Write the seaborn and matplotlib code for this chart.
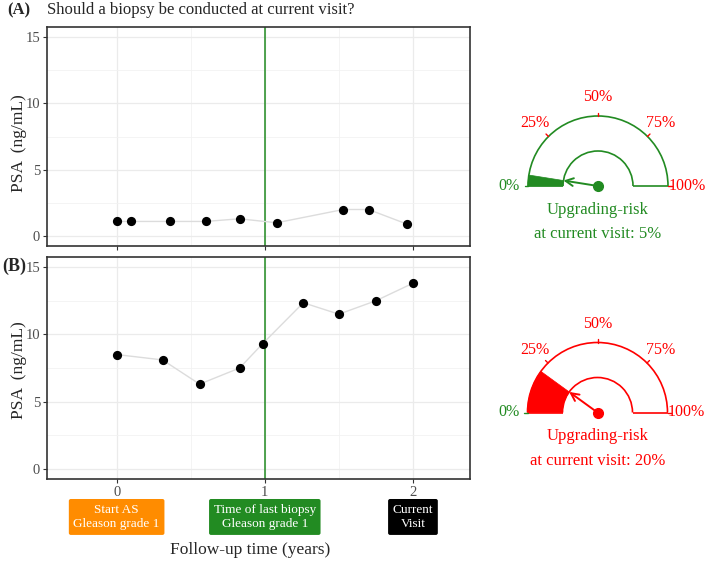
import numpy as np
import pandas as pd
import matplotlib
matplotlib.use("Agg")
import matplotlib.pyplot as plt
import matplotlib.transforms as mtransforms
from matplotlib.patches import Wedge, Arc, FancyArrowPatch
import seaborn as sns

# ---------------- data ----------------
time_a = [0.0, 0.10, 0.36, 0.60, 0.83, 1.08, 1.53, 1.70, 1.96]
psa_a = [1.1, 1.1, 1.1, 1.1, 1.3, 1.0, 2.0, 2.0, 0.9]
time_b = [0.0, 0.31, 0.56, 0.83, 0.985, 1.26, 1.50, 1.75, 2.0]
psa_b = [8.5, 8.1, 6.3, 7.5, 9.3, 12.35, 11.5, 12.5, 13.8]

risk_values = [0.05, 0.20]
risk_colors = ["#228B22", "#FF0000"]
panel_tags = ["(A)", "(B)"]

last_biopsy_time = 1.0
event_times = [0.0, 1.0, 2.0]
event_labels = ["Start AS\nGleason grade 1", "Time of last biopsy\nGleason grade 1", "Current\nVisit"]
event_colors = ["#FF8C00", "#228B22", "#000000"]

gauge_ticks = [0, 25, 50, 75, 100]
gauge_tick_colors = ["#228B22", "#FF0000", "#FF0000", "#FF0000", "#FF0000"]

y_ticks = [0, 5, 10, 15]
x_ticks = [0, 1, 2]

# ---------------- style ----------------
sns.set_style("white")
plt.rcParams["font.family"] = ["Liberation Serif", "DejaVu Serif"]

W, H = 709, 562
fig = plt.figure(figsize=(W / 100, H / 100), dpi=100)


def px_rect(x0, y0, x1, y1):
    return [x0 / W, 1 - y1 / H, (x1 - x0) / W, (y1 - y0) / H]


ax_a = fig.add_axes(px_rect(47, 27, 470, 246))
ax_b = fig.add_axes(px_rect(47, 257, 470, 479))

for ax, t, p in [(ax_a, time_a, psa_a), (ax_b, time_b, psa_b)]:
    df = pd.DataFrame({"time": t, "psa": p})
    ax.set_xlim(-0.47, 2.385)
    ax.set_ylim(-0.75, 15.75)
    ax.set_xticks(x_ticks)
    ax.set_yticks(y_ticks)
    ax.set_xticks([0.5, 1.5], minor=True)
    ax.set_yticks([2.5, 7.5, 12.5], minor=True)
    ax.grid(True, which="major", color="#EBEBEB", lw=0.9, zorder=0)
    ax.grid(True, which="minor", color="#F2F2F2", lw=0.6, zorder=0)
    ax.set_axisbelow(True)
    ax.axvline(last_biopsy_time, color="#228B22", lw=1.1, zorder=1)
    sns.lineplot(data=df, x="time", y="psa", ax=ax, color="#DCDCDC", lw=1.0,
                 zorder=2, legend=False)
    sns.scatterplot(data=df, x="time", y="psa", ax=ax, color="black", s=44,
                    linewidth=0, zorder=3, legend=False)
    for sp in ax.spines.values():
        sp.set_color("#333333")
        sp.set_linewidth(1.2)
        sp.set_visible(True)
    ax.tick_params(which="major", direction="out", length=3, width=0.8,
                   color="#333333", labelsize=10.5, labelcolor="#4D4D4D",
                   left=True, bottom=True, pad=2)
    ax.tick_params(which="minor", length=0)
    ax.set_xlabel("")
    ax.set_ylabel("PSA  (ng/mL)", fontsize=12.5)

ax_a.yaxis.set_label_coords(-0.048, 0.468)
ax_b.yaxis.set_label_coords(-0.048, 0.492)
ax_a.tick_params(axis="x", labelbottom=False)

# event boxes under the lower panel
trans = mtransforms.blended_transform_factory(ax_b.transData, ax_b.transAxes)
for et, lab, col in zip(event_times, event_labels, event_colors):
    ax_b.text(et, -0.171, lab, transform=trans, ha="center", va="center",
              color="white", fontsize=9.5, linespacing=1.3,
              bbox=dict(boxstyle="round,pad=0.35,rounding_size=0.15", fc=col, ec="none"))

fig.text(250 / W, 1 - 550 / H, "Follow-up time (years)", ha="center", va="center",
         fontsize=12.5)

# titles / tags
fig.text(7 / W, 1 - 10 / H, panel_tags[0], ha="left", va="center",
         fontsize=12, fontweight="bold")
fig.text(47 / W, 1 - 10 / H, "Should a biopsy be conducted at current visit?",
         ha="left", va="center", fontsize=12)
fig.text(2 / W, 1 - 266 / H, panel_tags[1], ha="left", va="center",
         fontsize=13, fontweight="bold")


# ---------------- gauges ----------------
def gauge(cx, cy, R, x0, y0, x1, y1, risk, col):
    g = fig.add_axes(px_rect(x0, y0, x1, y1))
    g.set_xlim((x0 - cx) / R, (x1 - cx) / R)
    g.set_ylim((cy - y1) / R, (cy - y0) / R)
    g.axis("off")
    lw = 1.2
    # filled risk wedge
    g.add_patch(Wedge((0, 0), 1.0, 180 - risk * 180, 180, width=0.5,
                      facecolor=col, edgecolor=col, lw=0.5))
    # outline
    g.add_patch(Arc((0, 0), 2, 2, theta1=0, theta2=180, color=col, lw=lw))
    g.add_patch(Arc((0, 0), 1, 1, theta1=0, theta2=180, color=col, lw=lw))
    g.plot([-1, -0.5], [0, 0], color=col, lw=lw, solid_capstyle="butt")
    g.plot([0.5, 1], [0, 0], color=col, lw=lw, solid_capstyle="butt")
    # ticks & labels
    for v, tc in zip(gauge_ticks, gauge_tick_colors):
        ang = np.deg2rad(180 - v * 1.8)
        g.plot([np.cos(ang), 1.05 * np.cos(ang)], [np.sin(ang), 1.05 * np.sin(ang)],
               color=tc, lw=1.0)
        g.text(1.27 * np.cos(ang), 1.27 * np.sin(ang), f"{v}%", color=tc,
               ha="center", va="center", fontsize=11.5)
    # needle
    ang = np.deg2rad(180 - risk * 180)
    g.add_patch(FancyArrowPatch((0, 0), (0.5 * np.cos(ang), 0.5 * np.sin(ang)),
                                arrowstyle="->", mutation_scale=14, color=col,
                                lw=1.4, shrinkA=0, shrinkB=0))
    g.plot([0], [0], "o", color=col, ms=7)
    g.text(0, -0.34, "Upgrading-risk", color=col, ha="center", va="center",
           fontsize=12)
    g.text(0, -0.69, f"at current visit: {int(round(risk * 100))}%", color=col,
           ha="center", va="center", fontsize=12)


gauge(598, 186, 70, 478, 75, 709, 250, risk_values[0], risk_colors[0])
gauge(597.5, 412.5, 70, 478, 300, 709, 480, risk_values[1], risk_colors[1])

fig.savefig("out.png", dpi=100)
